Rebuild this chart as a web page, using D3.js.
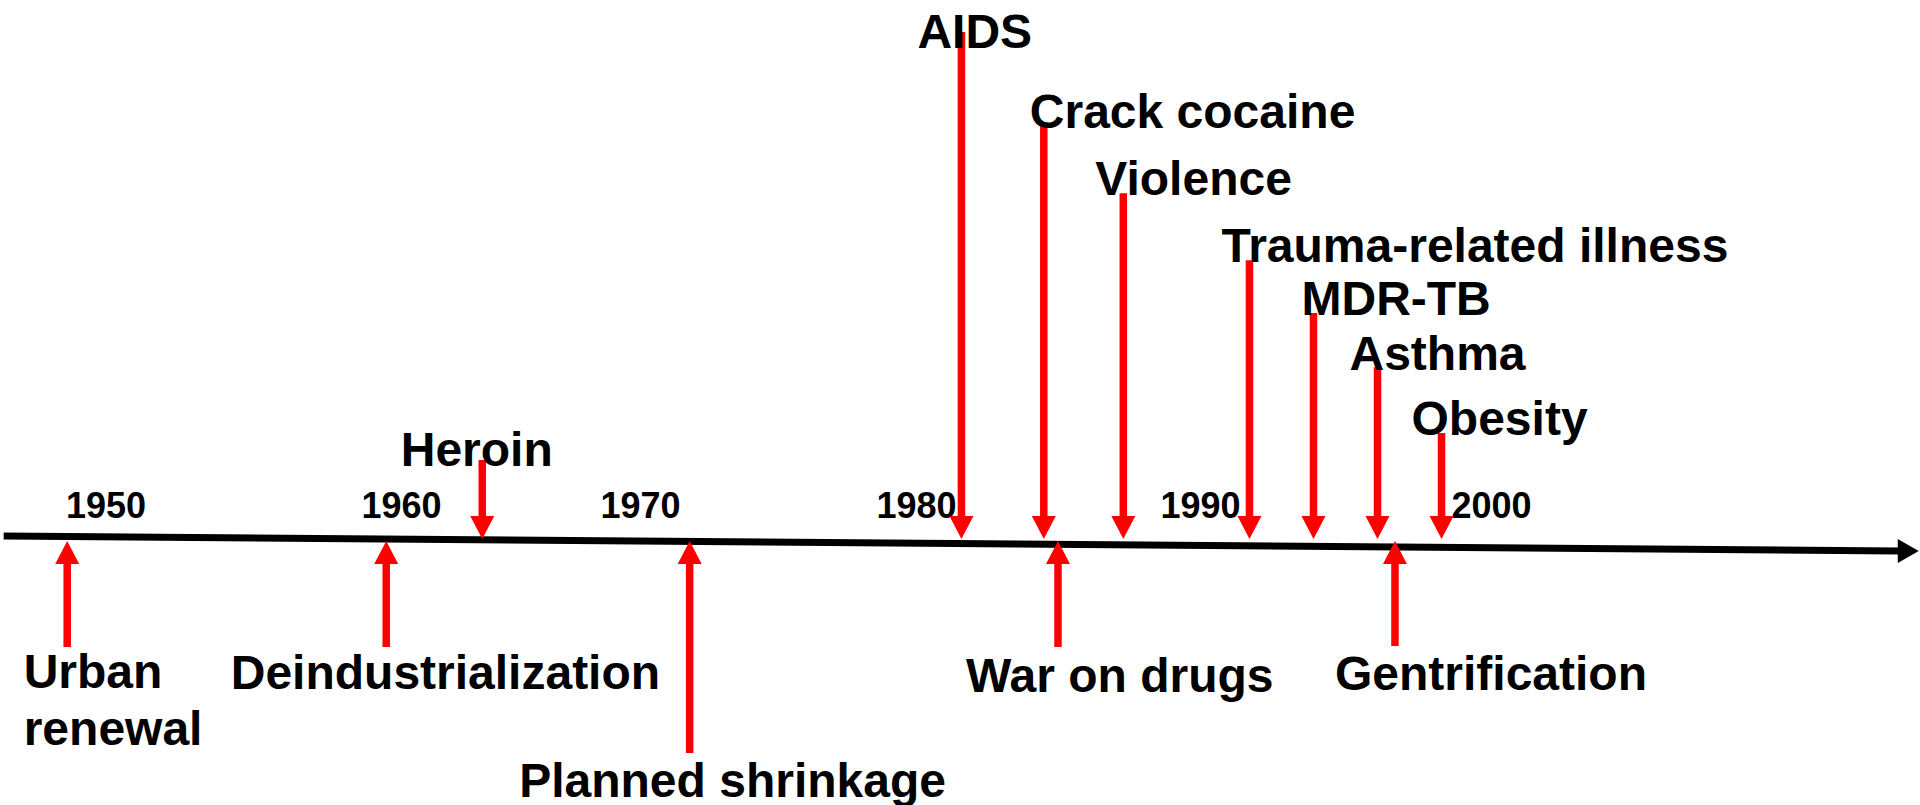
<!DOCTYPE html>
<html>
<head>
<meta charset="utf-8">
<script src="https://cdn.jsdelivr.net/npm/d3@7"></script>
<style>
  body { margin: 0; background: #fff; }
  svg text { font-family: "Liberation Sans", Arial, sans-serif; font-weight: bold; fill: #000; }
</style>
</head>
<body>
<div id="timeline"></div>
<script>
// Year marks shown along the line
var tickYears = [1950, 1960, 1970, 1980, 1990, 2000];

// Events: name, year, level (positive = above the line, negative = below)
var eventNames = ["Urban renewal", "Deindustrialization", "Heroin", "Planned shrinkage", "AIDS",
  "Crack cocaine", "War on drugs", "Violence", "Trauma-related illness", "MDR-TB",
  "Asthma", "Gentrification", "Obesity"];
var eventYears = [1948.7, 1959.5, 1963.4, 1971.8, 1981.6, 1984.5, 1985.0, 1987.3, 1991.7, 1993.9, 1996.1, 1996.7, 1998.3];
var eventLevels = [-21.3, -21.3, 15.6, -42.2, 100, 81.5, -21.3, 68.2, 55.0, 44.6, 33.9, -21.1, 20.9];

// Timeline runs from / to (years)
var lineStartYear = 1946.55, lineEndYear = 2014.7;

// ---- layout ----
var width = 1920, height = 805;
var tickPos = [105.6, 401, 640, 916, 1200, 1491]; // year marks were placed by hand, not evenly

var xScale = d3.scaleLinear().domain(tickYears).range(tickPos);
var yScale = d3.scaleLinear().domain([0, 100]).range([539, 32]);

// label offsets from the arrow (dx) and from the arrow end (dy)
var labelNudge = {
  "Urban renewal": { dx: -43.5, dy: 41 },
  "Deindustrialization": { dx: -155.5, dy: 42 },
  "Heroin": { dx: -81.5, dy: 6 },
  "Planned shrinkage": { dx: -170.5, dy: 44 },
  "AIDS": { dx: -44, dy: 16 },
  "Crack cocaine": { dx: -14, dy: 2 },
  "War on drugs": { dx: -92, dy: 45 },
  "Violence": { dx: -28, dy: 2 },
  "Trauma-related illness": { dx: -28, dy: 2 },
  "MDR-TB": { dx: -12, dy: 2 },
  "Asthma": { dx: -28, dy: 3 },
  "Gentrification": { dx: -60, dy: 44 },
  "Obesity": { dx: -30, dy: 2 }
};

var events = eventNames.map(function(n, i) {
  return { name: n, year: eventYears[i], level: eventLevels[i] };
});

var svg = d3.select("#timeline")
  .append("svg")
  .attr("width", width)
  .attr("height", height);

// main line, slightly tilted, with arrow head at the end
var x0 = xScale(lineStartYear), x1 = xScale(lineEndYear);
var headX = x1 - 21;
var lineY = d3.scaleLinear().domain([x0, headX]).range([536, 551]);

svg.append("line")
  .attr("x1", x0).attr("y1", lineY(x0))
  .attr("x2", headX + 1).attr("y2", lineY(headX))
  .attr("stroke", "#000")
  .attr("stroke-width", 7);

svg.append("path")
  .attr("d", "M" + headX + "," + (lineY(headX) - 12) + "L" + x1 + "," + lineY(headX) + "L" + headX + "," + (lineY(headX) + 12) + "Z")
  .attr("fill", "#000");

// year labels
var yearAxis = d3.axisTop(xScale)
  .tickValues(tickYears)
  .tickFormat(d3.format("d"))
  .tickSize(0)
  .tickPadding(0);

var axisG = svg.append("g")
  .attr("class", "years")
  .attr("transform", "translate(0,518)")
  .call(yearAxis);
axisG.select(".domain").remove();
axisG.attr("font-size", null).attr("font-family", null);
axisG.selectAll("text").style("font-size", "36px");

// event arrows
function arrowPath(x, yEnd, yTip) {
  var s = yTip > yEnd ? 1 : -1;
  var hl = 23, hw = 12, sw = 3.75;
  var yb = yTip - s * hl;
  return "M" + (x - sw) + "," + yEnd +
    "L" + (x + sw) + "," + yEnd +
    "L" + (x + sw) + "," + yb +
    "L" + (x + hw) + "," + yb +
    "L" + x + "," + yTip +
    "L" + (x - hw) + "," + yb +
    "L" + (x - sw) + "," + yb + "Z";
}

var ev = svg.selectAll(".event")
  .data(events)
  .enter()
  .append("g")
  .attr("class", "event");

ev.append("path")
  .attr("d", function(d) {
    var tip = d.level > 0 ? yScale(0) : yScale(0) + 2;
    return arrowPath(xScale(d.year), yScale(d.level), tip);
  })
  .attr("fill", "#ff0000");

ev.append("text")
  .attr("x", function(d) { return xScale(d.year) + labelNudge[d.name].dx; })
  .attr("y", function(d) { return yScale(d.level) + labelNudge[d.name].dy; })
  .style("font-size", "48px")
  .each(function(d) {
    var words = d.name === "Urban renewal" ? ["Urban", "renewal"] : [d.name];
    var t = d3.select(this);
    var x = t.attr("x");
    words.forEach(function(w, i) {
      t.append("tspan")
        .attr("x", x)
        .attr("dy", i === 0 ? 0 : 57)
        .text(w);
    });
  });
</script>
</body>
</html>
